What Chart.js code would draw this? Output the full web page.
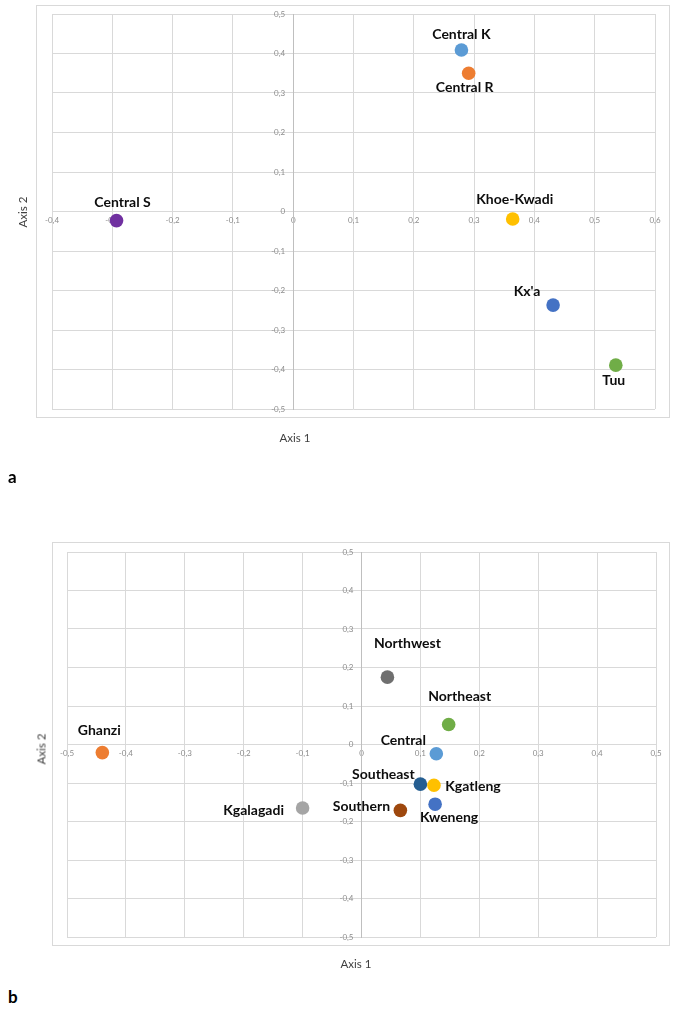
<!DOCTYPE html>
<html>
<head>
<meta charset="utf-8">
<script src="https://cdn.jsdelivr.net/npm/chart.js@4.4.0/dist/chart.umd.min.js"></script>
<style>
  body { margin: 0; background: #fff; width: 675px; height: 1012px; position: relative; overflow: hidden; font-family: Lato, "Open Sans", sans-serif; }
  .frame { position: absolute; border: 1px solid #d9d9d9; box-sizing: border-box; }
  canvas { position: absolute; left: 0; }
  .axis-title { position: absolute; font-size: 11.5px; color: #404040; white-space: nowrap; transform: translate(-50%, -50%); }
  .axis-title.vert { transform: translate(-50%, -50%) rotate(-90deg); }
  .panel { position: absolute; font-weight: bold; font-size: 17px; color: #000; }
</style>
</head>
<body>
<div class="frame" style="left:36px;top:5px;width:634px;height:413px"></div>
<div class="frame" style="left:52px;top:542px;width:618px;height:404px"></div>
<canvas id="chartA" width="675" height="440" style="top:0"></canvas>
<canvas id="chartB" width="675" height="460" style="top:520px"></canvas>
<div class="axis-title vert" style="left:22px;top:212px">Axis 2</div>
<div class="axis-title" style="left:295px;top:437px">Axis 1</div>
<div class="axis-title vert" style="left:41px;top:749px">Axis 2</div>
<div class="axis-title" style="left:356px;top:963px">Axis 1</div>
<div class="panel" style="left:8px;top:466px">a</div>
<div class="panel" style="left:8px;top:986px">b</div>
<script>
// panel a
const namesA = ['Central K', 'Central R', 'Central S', 'Khoe-Kwadi', "Kx'a", 'Tuu'];
const axis1A = [0.279, 0.291, -0.293, 0.364, 0.431, 0.535];
const axis2A = [0.409, 0.350, -0.023, -0.019, -0.237, -0.389];
const coloursA = ['#5b9bd5', '#ed7d31', '#7030a0', '#ffc000', '#4472c4', '#70ad47'];

// panel b
const namesB = ['Ghanzi', 'Northwest', 'Northeast', 'Central', 'Southeast', 'Kgatleng', 'Kweneng', 'Southern', 'Kgalagadi'];
const axis1B = [-0.440, 0.044, 0.148, 0.127, 0.100, 0.123, 0.125, 0.066, -0.100];
const axis2B = [-0.021, 0.175, 0.052, -0.024, -0.103, -0.106, -0.155, -0.171, -0.165];
const coloursB = ['#ed7d31', '#6f6f6f', '#70ad47', '#5b9bd5', '#255e91', '#ffc000', '#4472c4', '#9e480e', '#a5a5a5'];

// tick values
const xTicksA = [-0.4, -0.3, -0.2, -0.1, 0, 0.1, 0.2, 0.3, 0.4, 0.5, 0.6];
const xTicksB = [-0.5, -0.4, -0.3, -0.2, -0.1, 0, 0.1, 0.2, 0.3, 0.4, 0.5];
const yTicks = [-0.5, -0.4, -0.3, -0.2, -0.1, 0, 0.1, 0.2, 0.3, 0.4, 0.5];

// label placement relative to each point (px)
const labelOffsetsA = [[0, -15], [-4, 14], [6, -18], [2, -20], [-26, -14], [-2, 15]];
const labelOffsetsB = [[-3, -22], [20, -34], [11, -28], [-33, -13], [-37, -10], [39, 1], [14, 13], [-39, -4], [-49, 2]];

function fmt(v) {
  const r = Math.round(v * 10) / 10;
  return r === 0 ? '0' : r.toFixed(1).replace('.', ',');
}

const pointLabels = {
  id: 'pointLabels',
  afterDatasetsDraw(chart, args, opts) {
    const ctx = chart.ctx;
    const meta = chart.getDatasetMeta(0);
    ctx.save();
    ctx.font = 'bold 14px Lato';
    ctx.fillStyle = '#0d0d0d';
    ctx.textAlign = 'center';
    ctx.textBaseline = 'middle';
    meta.data.forEach((pt, i) => {
      const off = opts.offsets[i];
      ctx.fillText(opts.names[i], pt.x + off[0], pt.y + off[1]);
    });
    ctx.restore();
  }
};

function makeChart(id, names, xs, ys, colours, xTicks, offsets, padding) {
  const tickFont = { family: 'Lato', size: 8 };
  new Chart(document.getElementById(id), {
    type: 'scatter',
    data: {
      datasets: [{
        data: xs.map((x, i) => ({ x: x, y: ys[i] })),
        backgroundColor: colours,
        borderColor: colours,
        borderWidth: 0,
        pointRadius: 6.8
      }]
    },
    options: {
      responsive: false,
      animation: false,
      layout: { padding: padding },
      plugins: {
        legend: { display: false },
        tooltip: { enabled: false },
        pointLabels: { names: names, offsets: offsets }
      },
      scales: {
        x: {
          type: 'linear',
          position: { y: 0 },
          min: xTicks[0],
          max: xTicks[xTicks.length - 1],
          afterBuildTicks: s => { s.ticks = xTicks.map(v => ({ value: v })); },
          grid: { color: '#d9d9d9', drawTicks: false },
          border: { color: '#d9d9d9' },
          ticks: { font: tickFont, color: '#8c8c8c', padding: 4, maxRotation: 0, autoSkip: false, callback: v => fmt(v) }
        },
        y: {
          type: 'linear',
          position: { x: 0 },
          min: yTicks[0],
          max: yTicks[yTicks.length - 1],
          afterBuildTicks: s => { s.ticks = yTicks.map(v => ({ value: v })); },
          grid: { color: '#d9d9d9', drawTicks: false },
          border: { color: '#bfbfbf' },
          ticks: { font: tickFont, color: '#8c8c8c', padding: 6, autoSkip: false, callback: v => fmt(v) + '\u2002\u2002' }
        }
      }
    },
    plugins: [pointLabels]
  });
}

makeChart('chartA', namesA, axis1A, axis2A, coloursA, xTicksA, labelOffsetsA,
  { left: 52, right: 20, top: 14, bottom: 31 });
makeChart('chartB', namesB, axis1B, axis2B, coloursB, xTicksB, labelOffsetsB,
  { left: 67, right: 19, top: 32, bottom: 43 });
</script>
</body>
</html>
